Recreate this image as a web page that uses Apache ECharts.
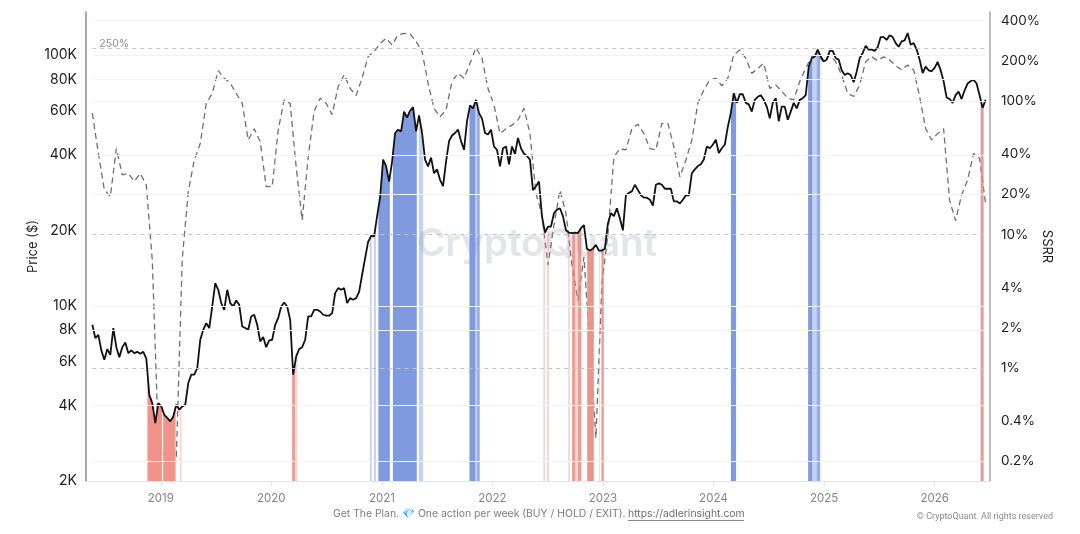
<!DOCTYPE html>
<html>
<head>
<meta charset="utf-8">
<style>html,body{margin:0;padding:0;background:#fff}#c{width:1080px;height:534px}</style>
<script src="https://cdn.jsdelivr.net/npm/echarts@6/dist/echarts.min.js"></script>
</head>
<body>
<div id="c"></div>
<script>
// Bitcoin price (USD), one reading roughly every ten days
const priceStart = '2018-05-20';
const priceStepDays = 9.904;
const priceValues = [
  8400,7430,7660,6640,6090,6720,6380,8150,6840,6240,6840,7140,6470,6640,6470,6550,6430,6550,6160,4410,
  4090,3400,4090,3970,3670,3570,3460,3620,4030,3850,3970,4030,4920,5310,5310,5640,7320,8020,8530,8150,
  9940,12320,11580,10250,9640,11580,10250,9940,10500,10090,8270,8150,8020,9070,9210,8400,7210,7500,6840,7280,
  7320,8400,8930,9940,10300,9940,8790,5310,6280,6720,6840,7320,9070,9070,9640,9640,9490,9210,9130,9130,
  9350,11230,11760,11580,11760,10250,10730,10570,10730,11370,13300,15500,18000,19000,18900,22800,27100,38300,36100,31300,
  37600,48900,50400,49600,59500,56400,60000,62000,49600,57500,48900,38300,36000,39000,33800,35000,31800,30000,37600,45400,
  47800,48900,50400,45400,41900,54500,63000,61300,66300,58700,55800,48900,48200,50400,43200,41900,36000,42500,43200,36700,
  43200,40400,46700,42500,40400,39600,38300,28900,30000,31300,22800,19600,20700,20700,23400,24200,24500,22800,20000,19600,
  19500,19600,19500,20400,21000,16900,16600,16900,17500,16600,16600,16900,21300,23400,22800,24500,22300,20000,27600,28200,
  28600,30400,29000,27600,27000,27000,26500,25100,30400,30800,30400,29300,29300,29300,26100,26100,25600,26500,27600,27600,
  33800,35000,36100,36700,38300,43200,42500,43900,46000,40700,42500,43900,51700,58700,70500,64500,69800,69800,64500,63600,
  59500,66300,68200,69200,66300,62300,56000,64500,67300,54500,62300,62300,55200,59500,64500,61300,66300,67300,69200,90100,
  97200,98700,105200,98700,94500,95900,104000,104000,97200,95900,87100,83300,84600,83300,78000,85900,97200,102000,108800,105200,
  105200,104000,107400,118000,118000,115000,120000,118000,111700,108000,113500,114500,122500,110000,111700,105200,95900,84800,90000,87000,
  86200,89000,94000,87100,78600,67800,66800,64500,69200,71500,66800,72400,77000,78600,79800,77000,69200,61600,66300
];

// Stablecoin supply ratio reading (percent), one reading roughly every twenty days
const ssrrStepDays = 19.808;
const ssrrValues = [
  81,40.5,21.6,19.2,44,28,28.7,25,28.7,23.5,6.4,0.3,0.22,0.2,0.21,6.6,20.9,36.1,48,96,
  114,169,148,136,114,96,51,62,49.6,22.8,22.8,60.6,102,96,32,12.8,38,84,105,96,
  79,128,157,124,110,149,215,234,270,295,263,313,321,318,280,234,136,88,76,86,
  140,161,148,192,250,209,124,93,57,62,66,72,88,57,20.3,14,5.9,11.8,21.5,14.5,
  5.9,3.2,6.8,1.45,0.3,4.3,10,38,44,43,62,67,57,44,43,68,68,45.5,27,36,
  51,96,121,144,148,130,148,222,241,209,161,175,192,124,132,118,105,102,140,176,
  215,218,197,221,197,156,114,108,132,197,215,200,214,203,184,171,186,171,108,62,
  51,57,62,18,12.7,19.8,25.6,40.5,37.3,17
];

// Signal windows under the price line: [from, to, shade]
const blueBands = [
  ['2020-11-22','2020-11-28','pale'],['2020-12-05','2020-12-12','pale'],
  ['2020-12-20','2021-01-27','strong'],['2021-02-06','2021-04-26','strong'],['2021-05-03','2021-05-17','pale'],
  ['2021-10-17','2021-11-06','strong'],['2021-11-06','2021-11-11','pale'],['2021-11-11','2021-11-20','mid'],
  ['2024-02-28','2024-03-16','strong'],
  ['2024-11-09','2024-11-23','strong'],['2024-11-23','2024-12-07','pale'],['2024-12-07','2024-12-19','mid']
];
const redBands = [
  ['2018-11-18','2019-01-05','strong'],['2019-01-09','2019-02-19','strong'],['2019-03-05','2019-03-11','pale'],
  ['2020-03-10','2020-03-20','mid'],['2020-03-20','2020-03-28','pale'],
  ['2022-06-18','2022-06-24','pale'],['2022-06-30','2022-07-07','pale'],
  ['2022-09-08','2022-09-14','pale'],['2022-09-21','2022-10-02','mid'],['2022-10-02','2022-10-10','pale'],['2022-10-10','2022-10-22','mid'],
  ['2022-11-10','2022-12-02','deep'],['2022-12-19','2022-12-22','pale'],['2022-12-27','2023-01-04','mid'],
  ['2026-06-02','2026-06-12','mid']
];

const yearTicks = ['2019','2020','2021','2022','2023','2024','2025','2026'];
const priceTicks = [2000,4000,6000,8000,10000,20000,40000,60000,80000,100000];
const ssrrTicks = [0.2,0.4,1,2,4,10,20,40,100,200,400];
const ssrrLevels = [250,10,1];
const faintPriceLevels = [100000,80000,40000,10000,8000,4000];
const faintSsrrLevels = [400,100,20,0.2];

const DAY = 86400000;
const startTs = +new Date(priceStart + 'T00:00:00Z');
const pricePoints = priceValues.map((v, i) => [startTs + i * priceStepDays * DAY, v]);
const ssrrPoints = ssrrValues.map((v, i) => [startTs + i * ssrrStepDays * DAY, v]);
const lastTs = pricePoints[pricePoints.length - 1][0];
const ts = s => +new Date(s + 'T00:00:00Z');
const PRICE_MIN = 2000, PRICE_MAX = 148600;

// The solid shades cover the dashed ratio line, the lighter ones let it show through
const shades = {
  blue: {strong:'#7f9ade', mid:'rgba(127,154,222,0.8)', pale:'rgba(127,154,222,0.45)'},
  red: {strong:'#f2938b', deep:'#e8958c', mid:'rgba(228,130,120,0.78)', pale:'rgba(236,150,140,0.38)'}
};
const bands = blueBands.map(b => [ts(b[0]), ts(b[1]), shades.blue[b[2]]])
  .concat(redBands.map(b => [ts(b[0]), ts(b[1]), shades.red[b[2]]]));

function priceAt(t) {
  for (let i = 1; i < pricePoints.length; i++) {
    if (pricePoints[i][0] >= t) {
      const a = pricePoints[i - 1], b = pricePoints[i];
      const f = (t - a[0]) / (b[0] - a[0]);
      return Math.exp(Math.log(a[1]) + f * (Math.log(b[1]) - Math.log(a[1])));
    }
  }
  return priceValues[priceValues.length - 1];
}

// Each window is a filled shape from the axis floor up to the price line
function renderBand(params, api) {
  const b = bands[params.dataIndex];
  const pts = [api.coord([b[0], PRICE_MIN]), api.coord([b[0], priceAt(b[0])])];
  pricePoints.forEach(p => { if (p[0] > b[0] && p[0] < b[1]) pts.push(api.coord(p)); });
  pts.push(api.coord([b[1], priceAt(b[1])]), api.coord([b[1], PRICE_MIN]));
  return {type:'polygon', shape:{points:pts}, style:{fill:b[2]}};
}

const flat = (level, axisStyle, extra) => [
  Object.assign({coord:[startTs, level], lineStyle:axisStyle}, extra || {}),
  {coord:[lastTs, level]}
];
const faintStyle = {color:'#f4f4f5', width:1, type:'solid'};
const levelStyle = {color:'#c4c4c4', width:1, type:[4,4]};

const font = 'Inter, "Noto Sans", sans-serif';
const chart = echarts.init(document.getElementById('c'), null, {renderer:'canvas'});
chart.setOption({
  animation:false,
  textStyle:{fontFamily:font},
  grid:{left:86, right:90, top:12, bottom:53},
  xAxis:{
    type:'value', min:ts('2018-04-29'), max:ts('2026-07-03'),
    axisLine:{lineStyle:{color:'#e3e4e8', width:1}},
    axisTick:{show:true, length:5, lineStyle:{color:'#e3e4e8'}, customValues:yearTicks.map(y => ts(y + '-01-01'))},
    axisLabel:{
      color:'#858585', fontSize:11.5, margin:12, hideOverlap:false,
      customValues:yearTicks.map(y => ts(y + '-01-01')),
      formatter:v => String(new Date(v).getUTCFullYear())
    },
    splitLine:{show:false}
  },
  yAxis:[
    {
      type:'log', min:PRICE_MIN, max:PRICE_MAX, logBase:10,
      name:'Price ($)', nameLocation:'middle', nameGap:46, nameMoveOverlap:false,
      nameTextStyle:{color:'#222', fontSize:13},
      axisLine:{show:true, lineStyle:{color:'#8b8b8b', width:1.5}},
      axisTick:{show:false},
      axisLabel:{color:'#1d1d1f', fontSize:14, margin:9, padding:[3,0,0,0],
        customValues:priceTicks, formatter:v => (v / 1000) + 'K'},
      splitLine:{show:false}
    },
    {
      type:'log', min:0.1425, max:464, logBase:10, position:'right',
      name:'SSRR', nameLocation:'middle', nameGap:50, nameRotate:-90, nameMoveOverlap:false,
      nameTextStyle:{color:'#222', fontSize:13},
      axisLine:{show:true, lineStyle:{color:'#a9a9a9', width:1.5}},
      axisTick:{show:false},
      axisLabel:{color:'#1d1d1f', fontSize:13.5, margin:11, padding:[3,0,0,0],
        customValues:ssrrTicks, formatter:v => v + '%'},
      splitLine:{show:false}
    }
  ],
  series:[
    {
      type:'line', name:'SSRR', yAxisIndex:1, data:ssrrPoints, z:2, symbol:'none', silent:true,
      lineStyle:{color:'#6f6f6f', width:1.3, type:[6,4]},
      markLine:{
        silent:true, symbol:'none', animation:false, label:{show:false},
        data:faintSsrrLevels.map(l => flat(l, faintStyle)).concat(
          ssrrLevels.map(l => flat(l, levelStyle, l === 250 ? {
            label:{show:true, formatter:'250%', position:'insideStartTop', color:'#8f8f8f', fontSize:10.5, distance:[7,-1]}
          } : {})))
      }
    },
    {
      type:'custom', name:'Signal windows', xAxisIndex:0, yAxisIndex:0, z:3, silent:true, clip:true,
      encode:{x:[0,1]}, data:bands.map(b => [b[0], b[1]]), renderItem:renderBand
    },
    {
      type:'line', name:'Price', yAxisIndex:0, data:pricePoints, z:4, symbol:'none', silent:true,
      lineStyle:{color:'#111', width:1.8},
      markLine:{
        silent:true, symbol:'none', animation:false, label:{show:false},
        data:faintPriceLevels.map(l => flat(l, faintStyle))
      }
    }
  ],
  graphic:[
    {type:'text', z:0, left:417, top:225, silent:true,
      style:{text:'CryptoQuant', fill:'#e3e5ea', font:'600 38.5px ' + font}},
    {type:'text', z:10, left:333, top:509, silent:true,
      style:{text:'Get The Plan. 💎 One action per week (BUY / HOLD / EXIT).', fill:'#7d7d7d', font:'10.4px ' + font}},
    {type:'text', z:10, left:628, top:509, silent:true,
      style:{text:'https://adlerinsight.com', fill:'#6e6e6e', font:'10.4px ' + font}},
    {type:'rect', z:10, silent:true, shape:{x:628, y:520, width:116, height:1}, style:{fill:'#8a8a8a'}},
    {type:'text', z:10, right:27, top:512, silent:true,
      style:{text:'© CryptoQuant. All rights reserved', fill:'#8a8a8a', font:'9px Roboto, ' + font}}
  ]
});
</script>
</body>
</html>
